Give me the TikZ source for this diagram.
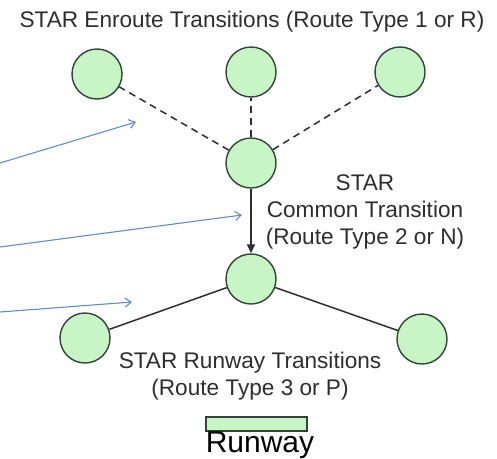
\documentclass[tikz,border=0pt]{standalone}
\usepackage{fontspec}
\setmainfont{Liberation Sans}
\usetikzlibrary{arrows.meta}
\definecolor{wpgreen}{HTML}{C8F5C6}
\definecolor{wpedge}{HTML}{33433A}
\definecolor{arrblue}{HTML}{5F8EC8}
\definecolor{txt}{HTML}{2E2E2E}
\begin{document}
\begin{tikzpicture}[x=1pt,y=-1pt,
  wpt/.style={circle,draw=wpedge,fill=wpgreen,line width=1.4pt,minimum size=50pt,inner sep=0pt},
  lbl/.style={font=\fontsize{22.6}{26.8}\selectfont,text=txt,align=center,inner sep=0pt},
  leg/.style={draw=arrblue,line width=1.1pt,-{Straight Barb[length=6pt,width=9pt]}},
  conn/.style={draw=txt,line width=1.5pt}]
\useasboundingbox (0,0) rectangle (497,458);
\node[wpt] (e1) at (97,74) {};
\node[wpt] (e2) at (251,72) {};
\node[wpt] (e3) at (400,72) {};
\node[wpt] (c) at (251,163) {};
\node[wpt] (r) at (251,279) {};
\node[wpt] (r1) at (85,338) {};
\node[wpt] (r2) at (422,339) {};
\draw[conn,dashed,dash pattern=on 7pt off 5pt] (c) -- (e1);
\draw[conn,dashed,dash pattern=on 7pt off 5pt] (c) -- (e2);
\draw[conn,dashed,dash pattern=on 7pt off 5pt] (c) -- (e3);
\draw[conn,-{Triangle[length=9pt,width=8pt]}] (c) -- (r);
\draw[conn] (r) -- (r1);
\draw[conn] (r) -- (r2);
\node[lbl] (t1) at (252,22) {STAR Enroute Transitions (Route Type 1 or R)};
\node[lbl] (t2) at (365,212) {STAR\\Common Transition\\(Route Type 2 or N)};
\node[lbl] (t3) at (250,376) {STAR Runway Transitions\\(Route Type 3 or P)};
\node[draw=wpedge,fill=wpgreen,line width=1.3pt,minimum width=101pt,minimum height=14pt,inner sep=0pt] (rw) at (256.5,424) {};
\node[font=\fontsize{30}{30}\selectfont,text=black,inner sep=0pt,anchor=north] (rwl) at (260,432) {Runway};
\coordinate (a1s) at (0,163);
\coordinate (a1e) at (136,122);
\coordinate (a2s) at (0,247);
\coordinate (a2e) at (242,215);
\coordinate (a3s) at (0,312);
\coordinate (a3e) at (132,302);
\draw[leg] (a1s) -- (a1e);
\draw[leg] (a2s) -- (a2e);
\draw[leg] (a3s) -- (a3e);
\end{tikzpicture}
\end{document}
